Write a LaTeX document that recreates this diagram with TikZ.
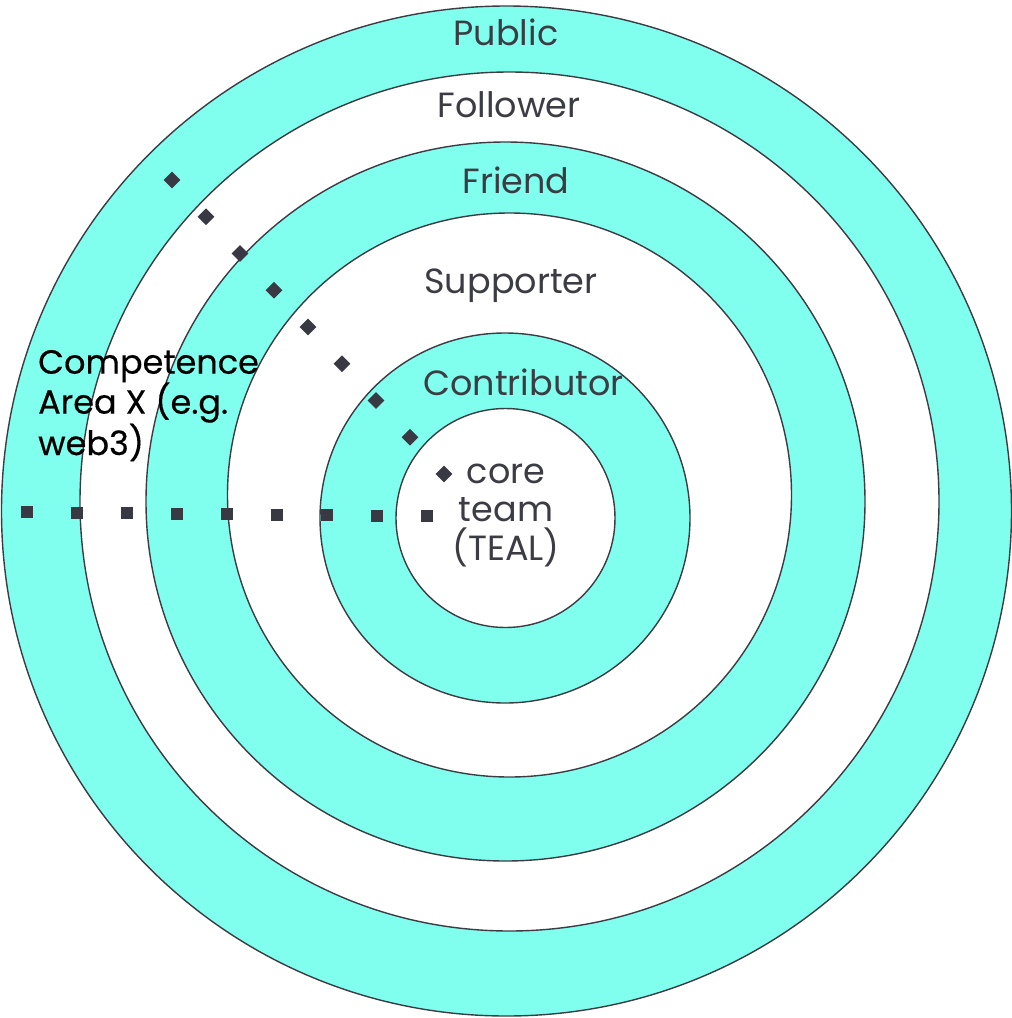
\documentclass[tikz,border=0pt]{standalone}
\usepackage{fontspec}
\setmainfont{Poppins}
\newfontfamily\areafont[FakeBold=0.4]{Poppins}
\usetikzlibrary{calc}
\definecolor{ringcyan}{HTML}{80FFEF}
\definecolor{ink}{HTML}{3C3C44}
\definecolor{markink}{HTML}{393944}

\begin{document}
\begin{tikzpicture}[x=1pt,y=-1pt,
  ring/.style={draw=ink, line width=1.4pt, circle, inner sep=0pt},
  cyanring/.style={ring, fill=ringcyan},
  whitering/.style={ring, fill=white},
  ringlabel/.style={text=ink, font=\fontsize{35}{38.5}\selectfont, inner sep=0pt, anchor=base},
  sqmark/.style={rectangle, fill=markink, minimum size=12pt, inner sep=0pt},
  dmmark/.style={rectangle, fill=markink, minimum size=12pt, inner sep=0pt, rotate=45},
]
\useasboundingbox (0,0) rectangle (1012,1018);

% concentric rings, from the outside in
\node[cyanring,  minimum size=1010pt] (ringpublic)      at (506.5,511)   {};
\node[whitering, minimum size=859pt]  (ringfollower)    at (509.5,501.5) {};
\node[cyanring,  minimum size=719pt]  (ringfriend)      at (505.5,501.5) {};
\node[whitering, minimum size=564pt]  (ringsupporter)   at (509.5,495)   {};
\node[cyanring,  minimum size=370pt]  (ringcontributor) at (505,518)     {};
\node[whitering, minimum size=219pt]  (ringcore)        at (505.5,518)   {};

% ring names (multi-line nodes sit on their last baseline)
\node[ringlabel] (public)      at (506,45)    {Public};
\node[ringlabel] (follower)    at (509,117)   {Follower};
\node[ringlabel] (friend)      at (516,193)   {Friend};
\node[ringlabel] (supporter)   at (511,293)   {Supporter};
\node[ringlabel] (contributor) at (523.5,395) {Contributor};
\node[ringlabel, align=center] (core) at (506,560) {core\\team\\(TEAL)};

% competence area
\node[text=black, font=\areafont\fontsize{33.5}{40}\selectfont, inner sep=0pt,
      align=left, anchor=base west] (area) at (38,455)
  {Competence\\Area X (e.g.\\web3)};

% dotted paths of markers
\coordinate (sqA) at (27,512);
\coordinate (sqB) at (427,516);
\foreach \i in {0,...,8}
  \node[sqmark] (sq\i) at ($(sqA)!\i/8!(sqB)$) {};

\coordinate (dmA) at (172,180);
\coordinate (dmB) at (444,474);
\foreach \i in {0,...,8}
  \node[dmmark] (dm\i) at ($(dmA)!\i/8!(dmB)$) {};
\end{tikzpicture}
\end{document}
